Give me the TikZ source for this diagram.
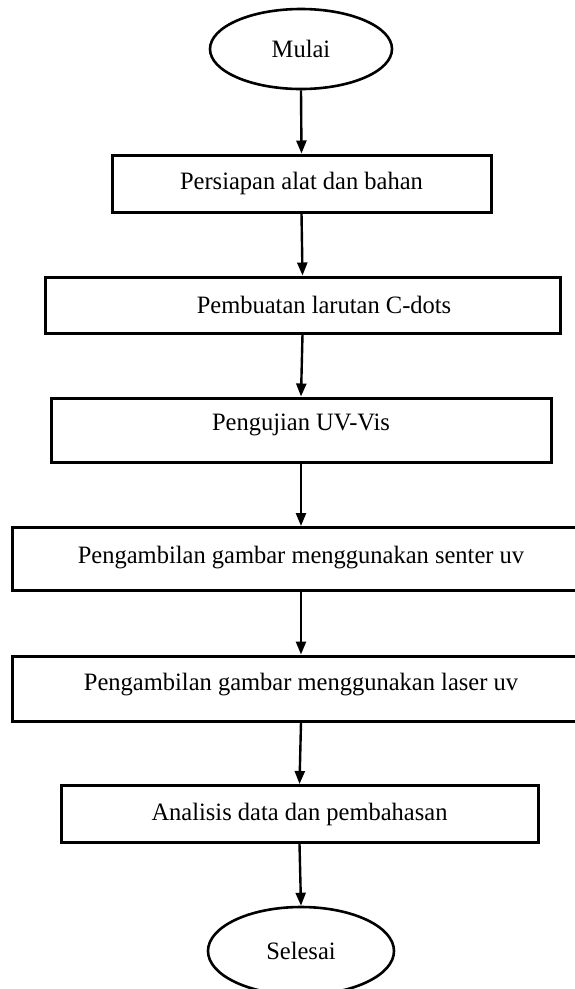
\documentclass[tikz,border=0pt]{standalone}
\usepackage{fontspec}
\setmainfont{Liberation Serif}[FakeStretch=0.98]
\usetikzlibrary{shapes.geometric,arrows.meta}
\begin{document}
\begin{tikzpicture}[x=1pt,y=-1pt,
  every node/.style={font=\fontsize{25}{30}\selectfont, inner sep=0pt},
  procbox/.style={draw, rectangle, line width=3pt},
  term/.style={draw, ellipse, line width=2.6pt},
  flow/.style={line width=2.4pt, -{Triangle[length=13pt,width=10pt]}}]
\clip (0,0) rectangle (575,989);
\fill[white] (0,0) rectangle (575,989);
\node[term, minimum width=182pt, minimum height=80pt] (mulai) at (301,49) {Mulai};
\node[procbox, minimum width=379pt, minimum height=57pt] (b1) at (301.5,183.5) {Persiapan alat dan bahan};
\node[procbox, minimum width=515pt, minimum height=56pt] (b2) at (302.5,305) {\hspace*{43pt}Pembuatan larutan C-dots};
\node[procbox, minimum width=500pt, minimum height=64pt, text depth=15pt] (b3) at (301,430) {Pengujian UV-Vis};
\node[procbox, minimum width=578pt, minimum height=63pt, text depth=9pt] (b4) at (301,559) {Pengambilan gambar menggunakan senter uv};
\node[procbox, minimum width=578pt, minimum height=65pt, text depth=14pt] (b5) at (301,688.5) {Pengambilan gambar menggunakan laser uv};
\node[procbox, minimum width=477pt, minimum height=57pt] (b6) at (299.5,814) {Analisis data dan pembahasan};
\node[term, minimum width=186pt, minimum height=88pt] (selesai) at (301,951) {Selesai};
\draw[flow] (mulai.south) -- (b1.north);
\draw[flow] (b1.south) -- (b2.north);
\draw[flow] (b2.south) -- (b3.north);
\draw[flow] (b3.south) -- (b4.north);
\draw[flow] (b4.south) -- (b5.north);
\draw[flow] (b5.south) -- (b6.north);
\draw[flow] (b6.south) -- (selesai.north);
\end{tikzpicture}
\end{document}
